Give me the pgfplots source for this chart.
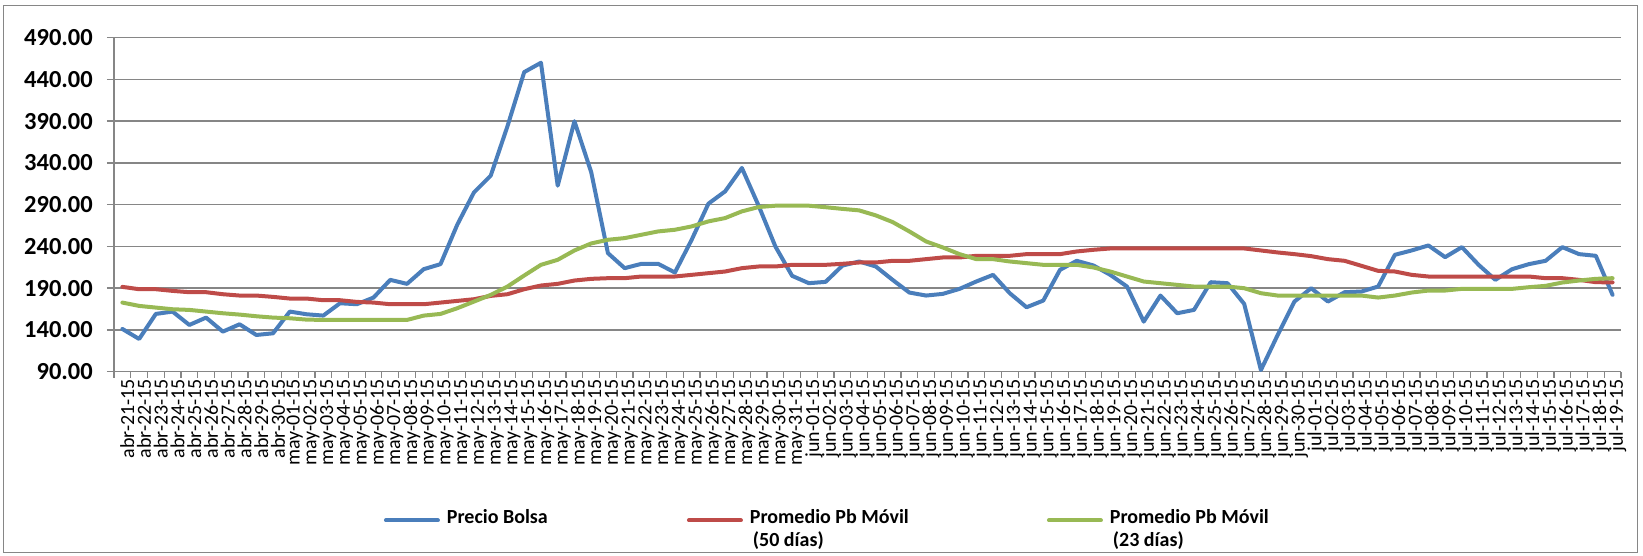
\documentclass[border=0pt]{standalone}
\usepackage{fontspec}
\setmainfont{Carlito}
\usepackage{pgfplots}
\usepackage{pgfplotstable}
\pgfplotsset{compat=1.18}
\definecolor{cblue}{HTML}{4A7EBB}
\definecolor{cred}{HTML}{BE4B48}
\definecolor{cgreen}{HTML}{98B954}
\definecolor{cgrid}{HTML}{868686}
\pgfplotstableread{
x bolsa p50 p23
0 141.2 191.6 172.8
1 129.2 188.8 168.8
2 159.2 188.8 166.8
3 162 186.8 164.8
4 146 185.2 164
5 154.8 185.2 162
6 138 182.8 160
7 146.8 181.2 158.4
8 134 181.2 156.4
9 136 179.6 154.8
10 162 177.6 154
11 158.8 177.6 152.4
12 157.2 175.6 152
13 172 175.6 152
14 170.8 173.6 152
15 178.8 172.8 152
16 200 170.8 152
17 195.2 170.8 152
18 212.8 170.8 157.2
19 218.8 172.8 159.2
20 266 174.8 166
21 304.8 176.8 174
22 324.8 180.8 182
23 384 182.8 192
24 448.8 188.8 205.2
25 460 193.2 218
26 312.8 195.2 224
27 390 199.2 235.2
28 329 201.2 243.6
29 232 202 248
30 214 202 250
31 219.2 204 254
32 219.2 204 258
33 208.8 204 260
34 248 206 264
35 291.2 208 270
36 306 210 274
37 334 214 282
38 288.8 216 287.2
39 240 216 288.8
40 204.8 218 288.8
41 196 218 288.8
42 197.6 218 287
43 217 219.2 285
44 222 220.8 283.2
45 216 220.8 277.2
46 200 222.8 269.2
47 184.8 222.8 258
48 181.2 224.8 246
49 183.2 226.8 238.8
50 189.2 226.8 230.8
51 198 228.8 224.8
52 206 228.8 224.8
53 184 228.8 222
54 167.2 230.8 220
55 175.2 230.8 218
56 212 230.8 218
57 222.8 234 218
58 217.2 236 214.8
59 206 237.6 210
60 192 237.6 204
61 150 237.6 198
62 181.2 237.6 196
63 160 237.6 194
64 164 237.6 192
65 197.2 237.6 192
66 196 237.6 192
67 171.2 237.6 190
68 92 235.2 184
69 134 232.8 181.2
70 174 230.8 181.2
71 190 228.4 181.2
72 174 224.8 181.2
73 185.2 222.8 181.2
74 186 216.8 181.2
75 192 210.8 178.8
76 230 210 181.2
77 235.2 206 184.8
78 241.2 204 187.2
79 227.2 204 187.2
80 239.2 204 189.2
81 218 204 189.2
82 200 204 189.2
83 212.8 204 189.2
84 218.8 204 191.2
85 222.8 202 192.8
86 239.2 202 196.8
87 230.8 200 199.2
88 228.8 197.2 201.2
89 182 197 202
}\datatable
\begin{document}
\begin{tikzpicture}
\path[use as bounding box] (-114pt,-183.3pt) rectangle (1529pt,371.7pt);
\draw[cgrid, line width=1pt] (-110.5pt,-180.5pt) rectangle (1523pt,366.5pt);
\begin{axis}[
  at={(0pt,0pt)}, anchor=south west,
  scale only axis, width=1507pt, height=334pt,
  xmin=-0.5, xmax=89.5, ymin=90, ymax=490,
  axis lines*=left,
  axis line style={cgrid, line width=1.5pt},
  ytick={90,140,...,490},
  ymajorgrids, major grid style={cgrid, line width=1.5pt},
  tick align=outside, major tick length=7pt, minor tick length=6pt,
  major x tick style={draw=none},
  minor x tick style={cgrid, line width=1.2pt},
  ytick style={cgrid, line width=1.5pt},
  xtick={0,...,89},
  minor xtick={-0.5,0.5,...,89.5},
  xticklabels={abr-21-15,abr-22-15,abr-23-15,abr-24-15,abr-25-15,abr-26-15,abr-27-15,abr-28-15,abr-29-15,abr-30-15,
    may-01-15,may-02-15,may-03-15,may-04-15,may-05-15,may-06-15,may-07-15,may-08-15,may-09-15,may-10-15,
    may-11-15,may-12-15,may-13-15,may-14-15,may-15-15,may-16-15,may-17-15,may-18-15,may-19-15,may-20-15,
    may-21-15,may-22-15,may-23-15,may-24-15,may-25-15,may-26-15,may-27-15,may-28-15,may-29-15,may-30-15,may-31-15,
    jun-01-15,jun-02-15,jun-03-15,jun-04-15,jun-05-15,jun-06-15,jun-07-15,jun-08-15,jun-09-15,jun-10-15,
    jun-11-15,jun-12-15,jun-13-15,jun-14-15,jun-15-15,jun-16-15,jun-17-15,jun-18-15,jun-19-15,jun-20-15,
    jun-21-15,jun-22-15,jun-23-15,jun-24-15,jun-25-15,jun-26-15,jun-27-15,jun-28-15,jun-29-15,jun-30-15,
    jul-01-15,jul-02-15,jul-03-15,jul-04-15,jul-05-15,jul-06-15,jul-07-15,jul-08-15,jul-09-15,jul-10-15,
    jul-11-15,jul-12-15,jul-13-15,jul-14-15,jul-15-15,jul-16-15,jul-17-15,jul-18-15,jul-19-15},
  xticklabel style={rotate=90, anchor=east, font=\fontsize{20}{24}\selectfont, inner sep=0pt, yshift=-5pt},
  yticklabel style={font=\fontsize{24.5}{28}\selectfont\bfseries, inner sep=0pt, xshift=-14pt},
  /pgf/number format/.cd, fixed, fixed zerofill, precision=2, assume math mode=true, /pgfplots/.cd,
  legend columns=3,
  legend style={draw=none, fill=none, at={(0.179,-0.40)}, anchor=north west,
    column sep=0pt, row sep=0pt, inner sep=0pt,
    cells={anchor=base west},
    font=\fontsize{20}{23}\selectfont\bfseries},
  legend image code/.code={\draw[#1] (0pt,0.32em) -- (52pt,0.32em); \path (57pt,0.32em);},
  every axis plot/.append style={line width=4pt, line join=round, line cap=round},
]
\addplot[cblue] table[x=x, y=bolsa] {\datatable};
\addlegendentry{\makebox[238pt][l]{Precio Bolsa}}
\addplot[cred] table[x=x, y=p50] {\datatable};
\addlegendentry{\makebox[295pt][l]{\begin{tabular}[t]{@{}l@{}}Promedio Pb Móvil\\\hspace{3pt}(50 días)\end{tabular}}}
\addplot[cgreen] table[x=x, y=p23] {\datatable};
\addlegendentry{\begin{tabular}[t]{@{}l@{}}Promedio Pb Móvil\\\hspace{3pt}(23 días)\end{tabular}}
\end{axis}
\end{tikzpicture}
\end{document}
